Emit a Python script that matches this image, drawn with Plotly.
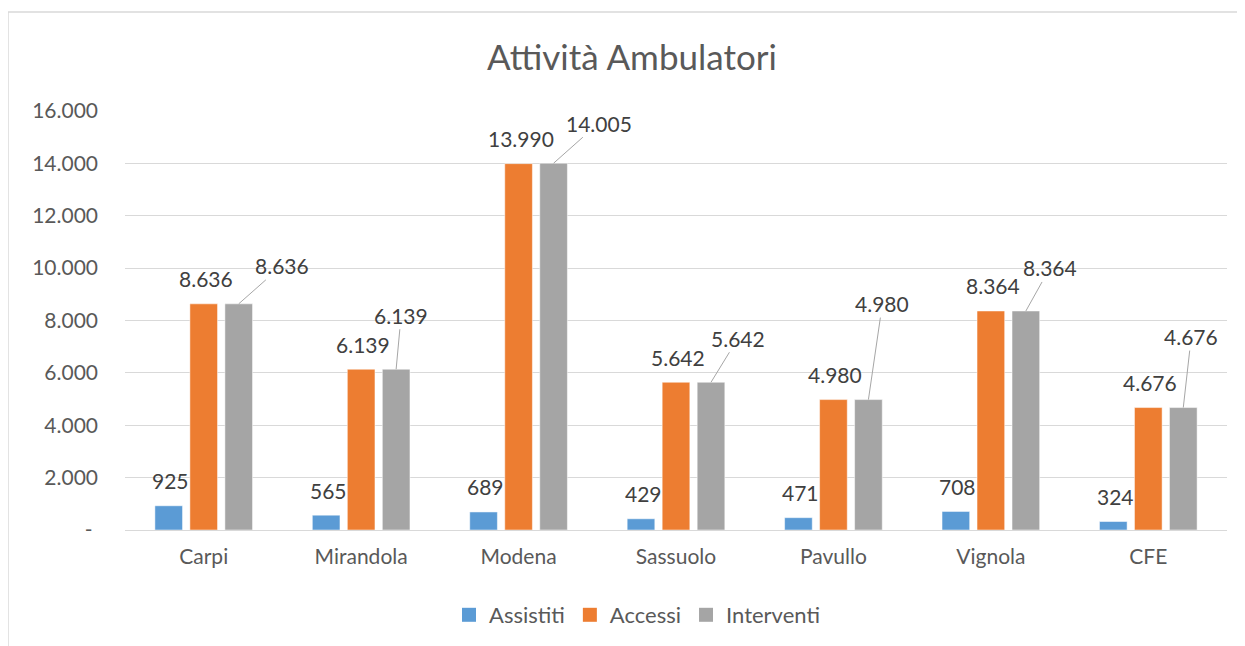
import plotly.graph_objects as go

sedi = ["Carpi", "Mirandola", "Modena", "Sassuolo", "Pavullo", "Vignola", "CFE"]
assistiti = [925, 565, 689, 429, 471, 708, 324]
accessi = [8636, 6139, 13990, 5642, 4980, 8364, 4676]
interventi = [8636, 6139, 14005, 5642, 4980, 8364, 4676]

y_ticks = [0, 2000, 4000, 6000, 8000, 10000, 12000, 14000, 16000]

# where Excel dropped the "Interventi" labels (pixel offsets from bar top)
label_dx = [43, 5, 45, 27, 14, 24, 8]
label_dy = [-38, -54, -40, -44, -96, -43, -71]

BLUE = "#5B9BD5"
ORANGE = "#ED7D31"
GREY = "#A5A5A5"
TXT = "#595959"
LBL = "#404040"
FONT = "Lato"

# page body has an 8px margin, so the figure is 8px smaller each way
W, H = 1237, 638


def ita(v):
    return f"{v:,}".replace(",", ".")


fig = go.Figure()

series = [("Assistiti", assistiti, BLUE), ("Accessi", accessi, ORANGE),
          ("Interventi", interventi, GREY)]
for name, vals, col in series:
    fig.add_trace(go.Bar(x=sedi, y=vals, name=name, marker_color=col,
                         showlegend=False))
# bigger square legend swatches, like Excel
for name, vals, col in series:
    fig.add_trace(go.Scatter(x=[None], y=[None], mode="markers", name=name,
                             marker=dict(symbol="square", size=14, color=col)))

for i, s in enumerate(sedi):
    fig.add_annotation(x=s, y=assistiti[i], text=ita(assistiti[i]), showarrow=False,
                       xshift=-33, yshift=25, yanchor="middle",
                       font=dict(size=21, color=LBL, family=FONT))
    fig.add_annotation(x=s, y=accessi[i], text=ita(accessi[i]), showarrow=False,
                       xshift=2, yshift=25, yanchor="middle",
                       font=dict(size=21, color=LBL, family=FONT))
    fig.add_annotation(x=s, y=interventi[i], text=ita(interventi[i]), showarrow=True,
                       xshift=35, ax=label_dx[i], ay=label_dy[i],
                       arrowhead=0, arrowwidth=1, arrowcolor="#A6A6A6",
                       font=dict(size=21, color=LBL, family=FONT))

# chart area border (runs off the right and bottom like the screenshot)
fig.add_shape(type="rect", xref="paper", yref="paper",
              x0=-0.1062, x1=1.05, y0=-0.35, y1=1.236,
              line=dict(color="#D9D9D9", width=1.5), layer="below")

fig.update_layout(
    width=W,
    height=H,
    template="plotly_white",
    plot_bgcolor="white",
    paper_bgcolor="white",
    barmode="group",
    bargap=0.333,
    bargroupgap=0.21,
    font=dict(family=FONT, color=TXT, size=21),
    title=dict(text="Attività Ambulatori", x=624 / W, xanchor="center",
               y=1 - 50 / H, yanchor="middle", yref="container",
               font=dict(size=35, color=TXT, family=FONT)),
    xaxis=dict(showgrid=False, showline=False, ticks="",
               tickfont=dict(size=21, color=TXT), ticklabelstandoff=12),
    yaxis=dict(range=[0, 16000], tickvals=y_ticks,
               ticktext=["-\u00a0"] + [ita(v) for v in y_ticks[1:]],
               gridcolor="#D9D9D9", gridwidth=1.3, zeroline=True,
               zerolinecolor="#D9D9D9", zerolinewidth=1.3, showline=False, ticks="",
               tickfont=dict(size=21, color=TXT), ticklabelstandoff=26),
    legend=dict(orientation="h", xref="container", yref="container",
                x=629 / W, xanchor="center", y=1 - 607 / H, yanchor="middle",
                font=dict(size=22, color=TXT), itemwidth=30),
    margin=dict(l=117, r=18, t=103, b=116),
)

fig.write_html("out.html")
